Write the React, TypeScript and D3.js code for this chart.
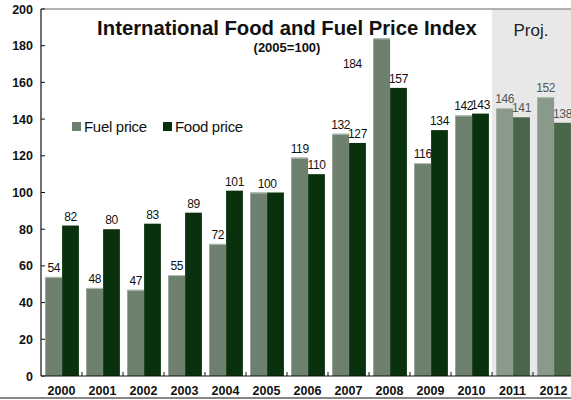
import React from 'react'
import * as d3 from 'd3'

const years = ['2000', '2001', '2002', '2003', '2004', '2005', '2006', '2007', '2008', '2009', '2010', '2011', '2012']
const fuel = [54, 48, 47, 55, 72, 100, 119, 132, 184, 116, 142, 146, 152]
const food = [82, 80, 83, 89, 101, 100, 110, 127, 157, 134, 143, 141, 138]
const projYears = ['2011', '2012']
const yTicks = [0, 20, 40, 60, 80, 100, 120, 140, 160, 180, 200]

const W = 571, H = 400
const left = 41, top = 9, bottom = 376
const band = 41

export default function App() {
  const x = d3.scaleBand<string>()
    .domain(years)
    .range([left, left + band * years.length])
  const y = d3.scaleLinear().domain([0, 200]).range([bottom, top])
  const bw = 16.8

  const fuelColor = (yr: string) => projYears.includes(yr) ? '#8a9a8a' : '#6e816e'
  const foodColor = (yr: string) => projYears.includes(yr) ? '#4a664a' : '#0a310d'
  const labelColor = (yr: string) => projYears.includes(yr) ? '#555' : '#111'
  const projX = x(projYears[0]) as number
  const lab = {fontSize: 12, letterSpacing: -0.4}

  return (
    <svg width={W} height={H} style={{position: 'absolute', left: 0, top: 0, fontFamily: 'Arial, "Liberation Sans", sans-serif'}}>
      <rect x={0} y={0} width={W} height={H} fill='white' />
      <rect x={projX} y={top} width={W - projX} height={bottom - top} fill='#e8e8e8' />
      <line x1={left} x2={W} y1={top} y2={top} stroke='#999' strokeWidth={1.5} />

      {years.map((yr, i) => {
        const x0 = (x(yr) as number) + 4.3
        const same = fuel[i] === food[i]
        return (
          <g key={yr}>
            <rect x={x0} y={y(fuel[i])} width={bw} height={bottom - y(fuel[i])} fill={fuelColor(yr)} />
            <line x1={x0} x2={x0 + bw} y1={y(fuel[i]) + 0.5} y2={y(fuel[i]) + 0.5} stroke='#b5c0b5' strokeWidth={1} />
            <rect x={x0 + bw} y={y(food[i])} width={bw} height={bottom - y(food[i])} fill={foodColor(yr)} />
            {yr === '2008'
              ? <text x={x0 - 21} y={y(fuel[i]) + 30} textAnchor='middle' {...lab} fill={labelColor(yr)}>{fuel[i]}</text>
              : <text x={same ? x0 + bw : x0 + bw / 2} y={y(fuel[i]) - 5} textAnchor='middle' {...lab} fill={labelColor(yr)}>{fuel[i]}</text>}
            {!same && <text x={x0 + bw * 1.5} y={y(food[i]) - 5} textAnchor='middle' {...lab} fill={labelColor(yr)}>{food[i]}</text>}
            <text x={(x(yr) as number) + band / 2} y={395} textAnchor='middle' fontSize={12.5} fontWeight='bold' fill='#111'>{yr}</text>
          </g>
        )
      })}

      {/* axes */}
      <line x1={left} x2={left} y1={top} y2={bottom} stroke='#111' strokeWidth={1.2} />
      <line x1={left} x2={W} y1={bottom} y2={bottom} stroke='#111' strokeWidth={1.2} />
      {yTicks.map(t => (
        <g key={t}>
          <line x1={left} x2={left + 4} y1={y(t)} y2={y(t)} stroke='#111' />
          <text x={33} y={y(t) + 4.5} textAnchor='end' fontSize={12.5} fontWeight='bold' fill='#111'>{t}</text>
        </g>
      ))}
      {years.slice(1).map(yr => (
        <line key={yr} x1={x(yr) as number} x2={x(yr) as number} y1={bottom} y2={bottom - 4} stroke='#111' />
      ))}
      <line x1={0} x2={W} y1={398} y2={398} stroke='#111' strokeWidth={1.2} />

      {/* titles */}
      <text x={287} y={35} textAnchor='middle' fontSize={20.3} fontWeight='bold' fill='#111'>International Food and Fuel Price Index</text>
      <text x={287} y={52} textAnchor='middle' fontSize={13} fontWeight='bold' fill='#111'>(2005=100)</text>
      <text x={531} y={36} textAnchor='middle' fontSize={17} fill='#222'>Proj.</text>

      {/* legend */}
      <rect x={72} y={122} width={9} height={9} fill='#6e816e' />
      <text x={84} y={132} fontSize={15} fill='#111' letterSpacing={-0.3}>Fuel price</text>
      <rect x={163} y={122} width={9} height={9} fill='#0a310d' />
      <text x={175} y={132} fontSize={15} fill='#111' letterSpacing={-0.3}>Food price</text>
    </svg>
  )
}
